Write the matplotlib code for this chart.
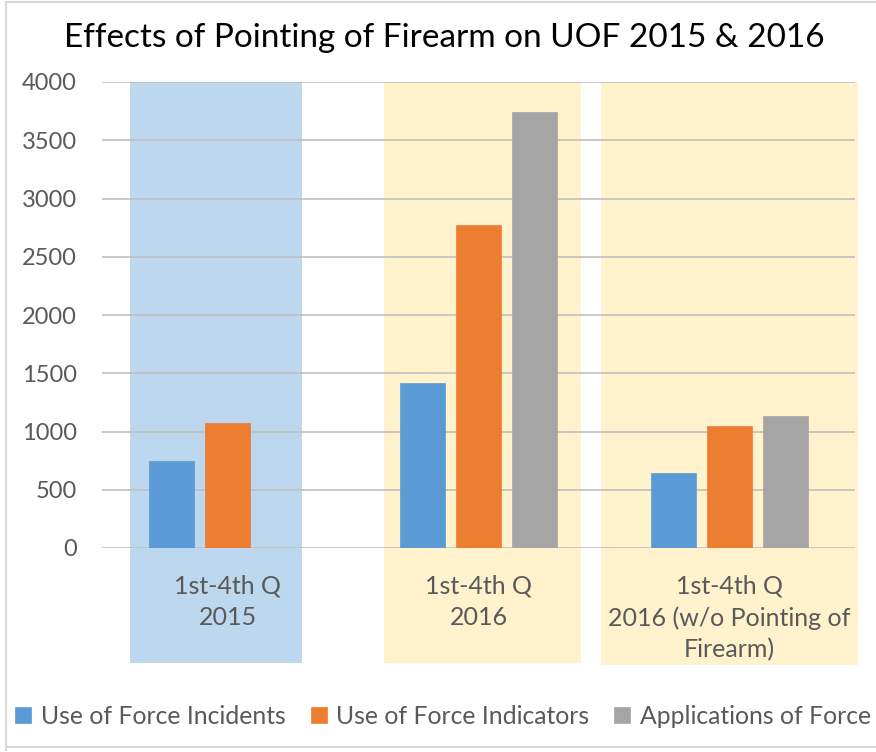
import matplotlib
matplotlib.use("Agg")
import matplotlib.pyplot as plt
import numpy as np
from matplotlib.patches import Rectangle
from matplotlib.lines import Line2D

plt.rcParams['font.family'] = ['Lato', 'DejaVu Sans']

categories = ["1st-4th Q\n2015", "1st-4th Q\n2016", "1st-4th Q\n2016 (w/o Pointing of\nFirearm)"]
series_names = ["Use of Force Incidents", "Use of Force Indicators", "Applications of Force"]
incidents = [750, 1415, 645]
indicators = [1070, 2775, 1048]
applications = [np.nan, 3745, 1137]
yticks = [0, 500, 1000, 1500, 2000, 2500, 3000, 3500, 4000]
title = "Effects of Pointing of Firearm on UOF 2015 & 2016"

colors = ["#5B9BD5", "#ED7D31", "#A5A5A5"]
txt_color = "#595959"

fig = plt.figure(figsize=(8.76, 7.52), dpi=100)
ax = fig.add_axes([102/876, 1-548/752, 753/876, (548-82)/752])

x = np.arange(len(categories))
offsets = [-0.223, 0.0, 0.223]
width = 0.179
for vals, off, col, name in zip([incidents, indicators, applications], offsets, colors, series_names):
    ax.bar(x + off, vals, width=width, color=col, label=name, zorder=3,
           edgecolor=col, linewidth=0.5)

# background highlight shapes (x in data units, y in data units extending below axis)
shapes = [(-0.39, 0.295, -987, "#BDD7EE"),
          (1 - 0.378, 1 + 0.41, -987, "#FFF2CC"),
          (2 - 0.51, 2 + 0.51, -1004, "#FFF2CC")]
for x0, x1, yb, c in shapes:
    ax.add_patch(Rectangle((x0, yb), x1 - x0, 4000 - yb, facecolor=c, edgecolor='none',
                           zorder=0.5, clip_on=False))

ax.set_xlim(-0.5, 2.5)
ax.set_ylim(0, 4000)
ax.set_yticks(yticks)
ax.set_yticklabels([str(v) for v in yticks], fontsize=17, color=txt_color)
ax.set_xticks(x)
ax.set_xticklabels(categories, fontsize=18, color=txt_color, linespacing=1.45)
ax.tick_params(axis='y', length=0, pad=18)
ax.tick_params(axis='x', length=0, pad=19)
ax.yaxis.grid(True, color="#BFBFBF", linewidth=1.2, zorder=1)
ax.set_axisbelow(False)
for s in ax.spines.values():
    s.set_visible(False)
ax.patch.set_alpha(0)
for gl in ax.get_ygridlines():
    gl.set_zorder(1)

fig.text(444/876, 1-38/752, title, ha='center', va='center', fontsize=24, color='black')

handles, labels = ax.get_legend_handles_labels()
fig.legend(handles, labels, loc='center', bbox_to_anchor=(0.506, 1-716/752), ncol=3,
           frameon=False, fontsize=17.8, handlelength=0.65, handleheight=0.65,
           handletextpad=0.4, columnspacing=1.0, labelcolor=txt_color)

# chart border
fig.add_artist(Line2D([6/876, 6/876], [2/752, 1-2/752], color="#D9D9D9", lw=1.5, transform=fig.transFigure))
fig.add_artist(Line2D([6/876, 1], [1-2/752, 1-2/752], color="#D9D9D9", lw=1.5, transform=fig.transFigure))
fig.add_artist(Line2D([6/876, 1], [5/752, 5/752], color="#D9D9D9", lw=1.5, transform=fig.transFigure))

fig.savefig("out.png", dpi=100)
